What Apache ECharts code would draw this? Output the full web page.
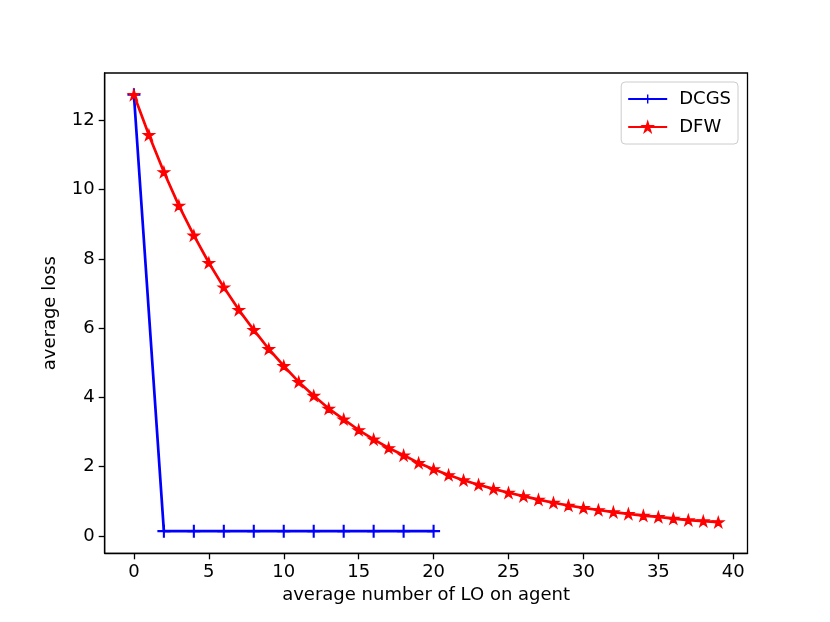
<!DOCTYPE html>
<html>
<head>
<meta charset="utf-8">
<script src="https://cdn.jsdelivr.net/npm/echarts@6/dist/echarts.min.js"></script>
<style>html,body{margin:0;padding:0;background:#fff;}#chart{width:830px;height:622px;}</style>
</head>
<body>
<div id="chart"></div>
<script>
const dcgsX = [0, 2, 4, 6, 8, 10, 12, 14, 16, 18, 20];
const dcgsY = [12.74, 0.14, 0.14, 0.14, 0.14, 0.14, 0.14, 0.14, 0.14, 0.14, 0.14];
const dfwX = [0,1,2,3,4,5,6,7,8,9,10,11,12,13,14,15,16,17,18,19,20,21,22,23,24,25,26,27,28,29,30,31,32,33,34,35,36,37,38,39];
const dfwY = [12.74,11.58,10.51,9.54,8.68,7.89,7.18,6.53,5.95,5.40,4.91,4.45,4.05,3.68,3.37,3.06,2.79,2.54,2.33,2.11,1.93,1.76,1.61,1.48,1.36,1.25,1.15,1.05,0.96,0.88,0.81,0.75,0.69,0.64,0.59,0.55,0.50,0.46,0.43,0.40];
const xTicks = [0, 5, 10, 15, 20, 25, 30, 35, 40];
const yTicks = [0, 2, 4, 6, 8, 10, 12];
const seriesNames = ['DCGS', 'DFW'];

const plusPath = 'path://M-0.16,-1 L0.16,-1 L0.16,-0.16 L1,-0.16 L1,0.16 L0.16,0.16 L0.16,1 L-0.16,1 L-0.16,0.16 L-1,0.16 L-1,-0.16 L-0.16,-0.16 Z';
const starPath = 'path://M0,-1 L0.2245,-0.309 L0.951,-0.309 L0.363,0.118 L0.588,0.809 L0,0.382 L-0.588,0.809 L-0.363,0.118 L-0.951,-0.309 L-0.2245,-0.309 Z';

const font = 'DejaVu Sans';
const chart = echarts.init(document.getElementById('chart'), null, {renderer: 'canvas'});
chart.setOption({
  animation: false,
  backgroundColor: '#ffffff',
  textStyle: {fontFamily: font},
  grid: {left: 104.7, right: 82.5, top: 73, bottom: 68.7, show: true, borderColor: '#000', borderWidth: 1.3, containLabel: false},
  legend: {
    right: 92, top: 82, orient: 'vertical',
    data: seriesNames,
    itemWidth: 39, itemHeight: 11, itemGap: 10,
    padding: [8, 7, 8, 6],
    borderColor: '#cccccc', borderWidth: 1, borderRadius: 4,
    backgroundColor: '#ffffff',
    textStyle: {fontFamily: font, fontSize: 18, color: '#000', padding: [0, 0, 0, 7]}
  },
  xAxis: {
    type: 'value', min: -1.95, max: 40.95,
    name: 'average number of LO on agent', nameLocation: 'middle', nameGap: 33,
    nameTextStyle: {fontFamily: font, fontSize: 18, color: '#000'},
    axisLine: {show: true, onZero: false, lineStyle: {color: '#000', width: 1.3}},
    axisTick: {show: true, inside: false, length: 6, lineStyle: {color: '#000', width: 1.3}, customValues: xTicks},
    axisLabel: {fontFamily: font, fontSize: 18, color: '#000', margin: 10, customValues: xTicks},
    splitLine: {show: false}
  },
  yAxis: {
    type: 'value', min: -0.5, max: 13.37,
    name: 'average loss', nameLocation: 'middle', nameGap: 45, nameRotate: 90,
    nameTextStyle: {fontFamily: font, fontSize: 18, color: '#000'},
    axisLine: {show: true, onZero: false, lineStyle: {color: '#000', width: 1.3}},
    axisTick: {show: true, inside: false, length: 6, lineStyle: {color: '#000', width: 1.3}, customValues: yTicks},
    axisLabel: {fontFamily: font, fontSize: 18, color: '#000', margin: 10, customValues: yTicks},
    splitLine: {show: false}
  },
  series: [
    {
      name: seriesNames[0], type: 'line',
      data: dcgsX.map((x, i) => [x, dcgsY[i]]),
      color: '#0000ff',
      lineStyle: {color: '#0000ff', width: 2.7},
      symbol: plusPath, symbolSize: 13, symbolKeepAspect: true, showAllSymbol: true,
      itemStyle: {color: '#0000ff'}
    },
    {
      name: seriesNames[1], type: 'line',
      data: dfwX.map((x, i) => [x, dfwY[i]]),
      color: '#ff0000',
      lineStyle: {color: '#ff0000', width: 2.7},
      symbol: starPath, symbolSize: 10.5, symbolKeepAspect: true, showAllSymbol: true,
      itemStyle: {color: '#ff0000', borderColor: '#ff0000', borderWidth: 1.4}
    }
  ]
});
</script>
</body>
</html>
